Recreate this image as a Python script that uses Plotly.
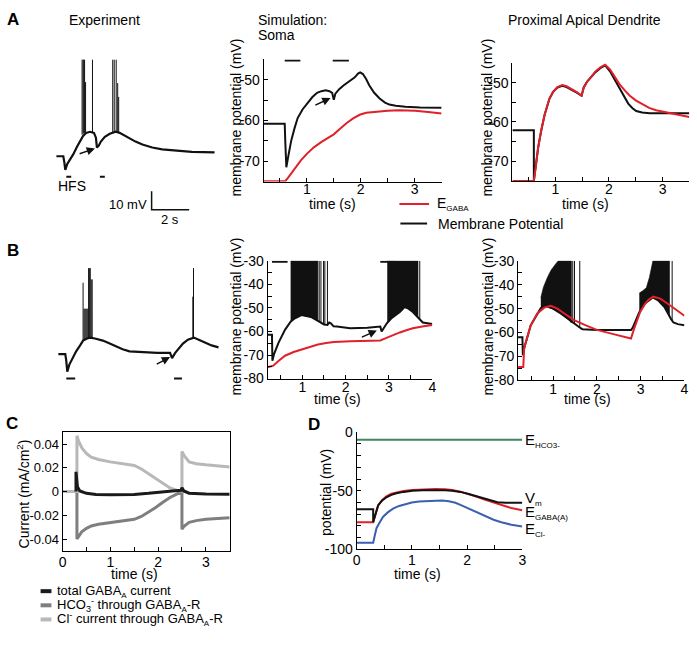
import plotly.graph_objects as go

W, H = 697, 645
FONT = "Liberation Sans, Arial, Helvetica, sans-serif"
RED = "#e0202a"
BLK = "#111111"

# ---------------- DATA ----------------
# Experiment A (s, mV)
expA_t = [0, 0.368, 0.421, 0.474, 0.579, 0.737, 0.895, 1.105, 1.263, 1.421, 1.579, 1.789, 2.0, 2.105,
          2.158, 2.263, 2.368, 2.579, 2.842, 3.0, 3.158, 3.368, 3.632, 3.895, 4.211, 4.579, 5.105,
          5.632, 6.421, 7.211, 8.421]
expA_v = [-60, -60, -63.2, -67.4, -64.2, -61.6, -59.0, -54.7, -51.6, -49.0, -47.4, -46.8, -47.4, -50.0,
          -55.3, -54.2, -52.1, -49.5, -47.9, -47.4, -46.8, -47.4, -49.0, -50.5, -52.1, -53.7, -55.3,
          -56.3, -57.1, -57.6, -57.9]
expA_spike_t = [1.368, 1.421, 1.458, 1.5, 1.553, 1.921, 3.0, 3.079, 3.184, 3.263, 3.316]
expA_spike_base = [-48.4, -47.9, -47.6, -47.4, -47.3, -47.0, -47.4, -47.2, -46.9, -47.0, -47.2]
expA_spike_peak = [-7.9, -7.9, -7.9, -7.9, -20.0, -7.9, -7.9, -7.9, -7.9, -20.5, -28.0]
expA_hfs_start = [0.526, 2.316]
expA_hfs_end = [0.789, 2.579]
expA_hfs_level = [-71.05, -71.05]
scale_t = [5.07, 5.07, 7.07]
scale_v = [-78.9, -88.9, -88.9]

# Experiment B
expB_t = [0, 0.368, 0.421, 0.474, 0.579, 0.789, 0.947, 1.158, 1.316, 1.526, 1.684, 1.947, 2.368, 2.737,
          3.053, 3.421, 3.789, 4.474, 5.263, 5.947, 6.053, 6.211, 6.421, 6.632, 6.895, 7.211, 7.474,
          7.789, 8.158, 8.526]
expB_v = [-61.0, -61.0, -64.7, -70.5, -66.8, -62.6, -59.5, -56.3, -53.7, -52.6, -52.1, -52.6, -53.7,
          -55.3, -56.8, -58.4, -59.5, -60.0, -60.3, -60.3, -63.2, -60.5, -57.9, -55.3, -53.2, -52.1,
          -53.2, -54.7, -56.3, -57.4]
expB_spike_t = [1.316, 1.37, 1.42, 1.47, 1.52, 1.57, 1.61, 1.65, 1.70, 1.75, 1.80, 7.16, 7.195]
expB_spike_base = [-53.7, -53.4, -53.1, -52.9, -52.7, -52.5, -52.3, -52.2, -52.1, -52.1, -52.2, -52.2, -52.1]
expB_spike_peak = [-22.5, -36.5, -36.5, -36.5, -36.5, -36.5, -14.6, -14.6, -14.6, -20.7, -20.7, -30.0, -14.6]
expB_hfs_start = [0.421, 6.158]
expB_hfs_end = [0.895, 6.579]
expB_hfs_level = [-74.2, -74.2]

# Simulation A, soma
aS_t = [0.2, 0.59, 0.6, 0.62, 0.66, 0.71, 0.77, 0.83, 0.92, 1.01, 1.1, 1.19, 1.27, 1.35, 1.42, 1.47, 1.5,
        1.53, 1.6, 1.68, 1.78, 1.89, 1.95, 1.99, 2.04, 2.1, 2.16, 2.25, 2.35, 2.45, 2.53, 2.65, 2.83, 3.1, 3.5]
aS_vm = [-60.8, -60.8, -65.0, -71.5, -68.5, -65.0, -62.0, -59.4, -57.3, -55.8, -54.3, -53.2, -52.8, -52.6,
         -52.8, -53.2, -54.9, -53.4, -52.3, -51.4, -50.5, -49.4, -48.5, -48.2, -48.6, -49.8, -51.4, -53.2,
         -54.6, -55.6, -56.1, -56.4, -56.6, -56.8, -56.9]
aS_te = [0.2, 0.6, 0.65, 0.75, 0.89, 1.0, 1.13, 1.28, 1.44, 1.5, 1.6, 1.74, 1.86, 1.98, 2.1, 2.28, 2.5,
         2.71, 3.01, 3.25, 3.5]
aS_egaba = [-74.9, -74.9, -74.1, -72.3, -69.8, -68.2, -66.6, -65.2, -64.0, -63.4, -62.2, -60.6, -59.5,
            -58.6, -58.1, -57.8, -57.6, -57.5, -57.6, -57.9, -58.3]
aS_hfs_start = [0.59, 1.48]
aS_hfs_end = [0.88, 1.78]
aS_hfs_level = [-45.25, -45.25]

# Simulation A, proximal apical dendrite
aD_t = [0.2, 0.6, 0.6, 0.64, 0.68, 0.74, 0.8, 0.89, 0.96, 1.04, 1.13, 1.21, 1.29, 1.4, 1.49, 1.53, 1.59,
        1.65, 1.75, 1.84, 1.93, 2.02, 2.1, 2.2, 2.28, 2.36, 2.44, 2.51, 2.62, 2.76, 3.5]
aD_vm = [-62.1, -62.1, -75.0, -71.0, -66.5, -62.0, -58.2, -54.1, -52.3, -51.2, -50.8, -51.1, -51.6, -52.5,
         -53.3, -51.2, -49.8, -48.8, -47.3, -46.3, -45.6, -47.1, -49.0, -51.6, -53.6, -55.3, -56.5, -57.2,
         -57.6, -57.8, -57.8]
aD_te = [0.2, 0.6, 0.64, 0.68, 0.74, 0.8, 0.89, 0.96, 1.04, 1.13, 1.21, 1.29, 1.4, 1.49, 1.53, 1.59, 1.65,
         1.75, 1.84, 1.93, 2.02, 2.1, 2.2, 2.3, 2.39, 2.5, 2.63, 2.75, 2.88, 3.12, 3.3, 3.5]
aD_egaba = [-75.0, -75.0, -71.0, -66.5, -62.0, -58.2, -54.1, -52.3, -51.1, -50.6, -50.9, -51.5, -52.4,
            -53.3, -51.3, -49.8, -48.7, -47.1, -46.1, -45.4, -46.6, -48.2, -50.4, -52.0, -53.3, -54.5,
            -55.6, -56.4, -57.0, -57.6, -58.1, -58.7]

# Simulation B, soma
bS_t = [0.2, 0.3, 0.31, 0.35, 0.45, 0.6, 0.73, 0.83, 0.98, 1.2, 1.39, 1.5, 1.58, 1.62, 1.66, 1.72, 1.8,
        2.1, 2.5, 2.8, 2.83, 2.9, 2.95, 3.05, 3.25, 3.36, 3.45, 3.55, 3.7, 3.78, 3.85, 4.0]
bS_vm = [-61.4, -61.4, -72.4, -69.5, -64.8, -59.3, -55.8, -54.4, -53.0, -53.8, -55.8, -57.0, -57.2, -56.2,
         -56.5, -57.8, -57.9, -58.6, -58.4, -57.9, -60.0, -58.0, -56.5, -54.5, -51.7, -49.6, -50.3, -51.7,
         -54.4, -56.2, -56.4, -56.8]
bS_te = [0.2, 0.33, 0.45, 0.6, 0.8, 0.98, 1.17, 1.36, 1.55, 1.73, 2.11, 2.5, 2.8, 2.9, 3.02, 3.25, 3.4,
         3.55, 3.8, 4.0]
bS_egaba = [-75.2, -74.5, -72.5, -70.3, -68.7, -67.6, -66.4, -65.5, -64.9, -64.5, -64.1, -63.9, -63.8,
            -63.0, -62.0, -60.4, -59.5, -58.6, -57.8, -57.2]
bS_band1_t = [0.73, 0.83, 0.98, 1.2, 1.36]
bS_band1_base = [-55.8, -54.4, -53.0, -53.8, -55.5]
bS_band1_top = [-30, -30, -30, -30, -30]
bS_band2_t = [2.96, 3.05, 3.25, 3.36, 3.45, 3.55, 3.67]
bS_band2_base = [-56.5, -54.5, -51.7, -49.6, -50.3, -51.7, -53.8]
bS_band2_top = [-30, -30, -30, -30, -30, -30, -30]
bS_spike_t = [1.39, 1.43, 1.49, 1.52, 1.58, 3.71]
bS_spike_base = [-55.8, -56.3, -56.8, -57.0, -57.2, -54.6]
bS_spike_peak = [-30, -30, -30, -30, -30, -30]
bS_hfs_start = [0.3, 2.8]
bS_hfs_end = [0.66, 3.17]
bS_hfs_level = [-30.35, -30.35]

# Simulation B, dendrite
bD_t = [0.2, 0.3, 0.31, 0.34, 0.49, 0.64, 0.72, 0.85, 1.0, 1.2, 1.42, 1.5, 1.6, 1.67, 2.0, 2.78, 2.82,
        2.9, 2.97, 3.1, 3.2, 3.28, 3.4, 3.55, 3.7, 3.75, 3.85, 4.0]
bD_vm = [-62.0, -62.0, -69.5, -66.6, -57.0, -52.0, -49.8, -49.0, -50.0, -52.3, -55.5, -56.5, -57.8, -58.6,
         -59.0, -59.0, -58.0, -54.5, -51.5, -47.8, -46.2, -45.3, -46.5, -49.5, -54.5, -55.8, -56.5, -57.0]
bD_te = [0.2, 0.32, 0.34, 0.4, 0.49, 0.64, 0.8, 0.95, 1.1, 1.2, 1.48, 1.75, 2.0, 2.4, 2.78, 2.85, 2.99,
         3.1, 3.18, 3.29, 3.45, 3.67, 3.85, 4.0]
bD_egaba = [-74.5, -74.5, -66.6, -62.5, -57.0, -52.0, -49.6, -48.8, -50.0, -51.3, -54.8, -57.0, -58.9,
            -60.8, -62.5, -58.5, -51.4, -48.0, -46.3, -45.0, -45.8, -48.6, -50.8, -53.0]
bD_band1_t = [0.72, 0.78, 0.87, 0.95, 1.05, 1.12, 1.2, 1.35, 1.42]
bD_band1_base = [-49.8, -49.2, -49.3, -49.8, -50.5, -51.2, -52.3, -54.5, -56.0]
bD_band1_top = [-45.5, -41.0, -37.0, -34.0, -31.5, -30.0, -30.0, -30.0, -30.0]
bD_band2_t = [2.97, 3.05, 3.13, 3.2, 3.28, 3.4, 3.55, 3.66]
bD_band2_base = [-51.5, -49.5, -47.5, -46.3, -45.5, -46.5, -49.5, -53.0]
bD_band2_top = [-43.5, -42.5, -41.3, -37.0, -30.0, -30.0, -30.0, -30.0]
bD_spike_t = [1.45, 1.49, 1.61, 3.72]
bD_spike_base = [-56.0, -56.5, -58.0, -55.0]
bD_spike_peak = [-30, -30, -30, -30]

# Panel C currents (mA/cm2)
c_cl_t = [0, 0.3, 0.3, 0.33, 0.4, 0.5, 0.6, 0.75, 1.0, 1.25, 1.5, 1.65, 1.8, 1.95, 2.1, 2.25, 2.4, 2.5,
          2.5, 2.55, 2.65, 2.8, 3.0, 3.25, 3.5]
c_cl = [0, 0, 0.047, 0.043, 0.037, 0.032, 0.029, 0.027, 0.025, 0.0235, 0.022, 0.019, 0.015, 0.0105,
        0.0065, 0.003, 0.001, 0.0003, 0.0337, 0.030, 0.025, 0.0235, 0.0225, 0.0215, 0.0207]
c_hco3_t = [0, 0.3, 0.3, 0.33, 0.4, 0.5, 0.6, 0.75, 1.0, 1.25, 1.5, 1.65, 1.8, 1.95, 2.1, 2.25, 2.4, 2.5,
            2.5, 2.55, 2.65, 2.8, 3.0, 3.25, 3.5]
c_hco3 = [0, 0, -0.040, -0.038, -0.034, -0.031, -0.029, -0.0275, -0.0262, -0.025, -0.0234, -0.021,
          -0.0175, -0.0135, -0.009, -0.005, -0.002, -0.0005, -0.0317, -0.029, -0.026, -0.0245, -0.0234,
          -0.0228, -0.022]
c_tot_t = [0.28, 0.28, 0.31, 0.36, 0.5, 0.7, 1.0, 1.5, 1.8, 2.0, 2.3, 2.48, 2.5, 2.54, 2.65, 3.0, 3.5]
c_tot = [0, 0.0166, 0.004, 0.0005, -0.0015, -0.0025, -0.0028, -0.0024, -0.0015, -0.0005, 0.0005, 0.001,
         0.0033, 0.0005, -0.0014, -0.002, -0.0022]

# Panel D potentials (mV)
d_t_hco3 = [0, 3]
d_ehco3 = [-6.4, -6.4]
d_t_vm = [0, 0.3, 0.3, 0.33, 0.39, 0.46, 0.54, 0.63, 0.72, 0.85, 1.01, 1.2, 1.43, 1.6, 1.73, 1.88, 2.03,
          2.18, 2.33, 2.45, 2.55, 2.7, 3.0]
d_vm = [-65.8, -65.8, -77.0, -72.0, -62.5, -58.5, -55.6, -53.5, -52.2, -51.0, -50.0, -49.6, -49.4,
        -49.6, -50.0, -51.0, -52.8, -54.8, -56.9, -58.8, -59.9, -60.3, -60.3]
d_t_eg = [0, 0.3, 0.33, 0.39, 0.46, 0.54, 0.63, 0.72, 0.85, 1.01, 1.2, 1.43, 1.6, 1.73, 1.88, 2.03, 2.18,
          2.33, 2.5, 2.62, 2.8, 3.0]
d_egaba = [-76.9, -76.9, -72.0, -62.5, -58.0, -54.7, -52.6, -51.4, -50.2, -49.4, -48.8, -48.6, -48.8,
           -49.4, -50.8, -52.8, -55.2, -57.8, -60.5, -62.5, -64.8, -66.7]
d_t_cl = [0, 0.3, 0.33, 0.36, 0.42, 0.48, 0.57, 0.66, 0.77, 0.89, 1.0, 1.13, 1.35, 1.55, 1.67, 1.79, 1.9,
          2.03, 2.18, 2.33, 2.48, 2.62, 2.8, 3.0]
d_ecl = [-94.4, -94.4, -88.0, -82.0, -77.0, -72.2, -68.3, -65.3, -63.0, -61.1, -60.0, -59.2, -58.5,
         -58.3, -59.0, -60.3, -62.5, -65.3, -68.7, -72.2, -74.8, -76.9, -79.0, -80.6]

# Tick labels
simA_yticks = [-70, -60, -50]
simA_yticklabels = ["-70", "-60", "-50"]
simA_xticks = [1, 2, 3]
simB_yticks = [-80, -70, -60, -50, -40, -30]
simB_yticklabels = ["-80", "-70", "-60", "-50", "-40", "-30"]
simB_xticks = [1, 2, 3, 4]
c_yticks = [-0.04, -0.02, 0, 0.02, 0.04]
c_yticklabels = ["-0.04", "-0.02", "0", "0.02", "0.04"]
c_xticks = [0, 1, 2, 3]
d_yticks = [-100, -50, 0]
d_yticklabels = ["-100", "-50", "0"]
d_xticks = [0, 1, 2, 3]


# ---------------- helpers ----------------
def xd(a, b):
    return [a / W, b / W]


def yd(top, bottom):
    return [1 - bottom / H, 1 - top / H]


def px(x):
    return x / W


def py(y):
    return 1 - y / H


def segs(t0, t1, lev):
    xs, ys = [], []
    for a, b, c in zip(t0, t1, lev):
        xs += [a, b, None]
        ys += [c, c, None]
    return xs, ys


def spikes(ts, base, peak):
    xs, ys = [], []
    for t, b, p in zip(ts, base, peak):
        xs += [t, t, None]
        ys += [b, p, None]
    return xs, ys


def band(ts, base, top):
    return list(ts) + list(ts)[::-1], list(base) + list(top)[::-1]


fig = go.Figure()


def line(x, y, ax, color=BLK, width=2):
    fig.add_trace(go.Scatter(x=x, y=y, mode="lines", xaxis="x" + ax, yaxis="y" + ax,
                             line=dict(color=color, width=width), hoverinfo="skip"))


def fill(x, y, ax):
    fig.add_trace(go.Scatter(x=x, y=y, mode="lines", fill="toself", fillcolor=BLK,
                             xaxis="x" + ax, yaxis="y" + ax,
                             line=dict(color=BLK, width=0.6), hoverinfo="skip"))


# ---- experiment A (axes 1)
line(expA_t, expA_v, "1", BLK, 2.2)
sx, sy = spikes(expA_spike_t, expA_spike_base, expA_spike_peak)
line(sx, sy, "1", BLK, 1)
hx, hy = segs(expA_hfs_start, expA_hfs_end, expA_hfs_level)
line(hx, hy, "1", BLK, 2)
line(scale_t, scale_v, "1", BLK, 1.5)

# ---- sim A soma (axes 2)
line(aS_te, aS_egaba, "2", RED, 2)
line(aS_t, aS_vm, "2", BLK, 2)
hx, hy = segs(aS_hfs_start, aS_hfs_end, aS_hfs_level)
line(hx, hy, "2", BLK, 2)

# ---- sim A dendrite (axes 3)
line(aD_t, aD_vm, "3", BLK, 2)
line(aD_te, aD_egaba, "3", RED, 2)

# ---- experiment B (axes 4)
line(expB_t, expB_v, "4", BLK, 2.2)
sx, sy = spikes(expB_spike_t, expB_spike_base, expB_spike_peak)
line(sx, sy, "4", BLK, 1)
hx, hy = segs(expB_hfs_start, expB_hfs_end, expB_hfs_level)
line(hx, hy, "4", BLK, 2)

# ---- sim B soma (axes 5)
line(bS_t, bS_vm, "5", BLK, 2)
fill(*band(bS_band1_t, bS_band1_base, bS_band1_top), "5")
fill(*band(bS_band2_t, bS_band2_base, bS_band2_top), "5")
sx, sy = spikes(bS_spike_t, bS_spike_base, bS_spike_peak)
line(sx, sy, "5", BLK, 1)
line(bS_te, bS_egaba, "5", RED, 2)
hx, hy = segs(bS_hfs_start, bS_hfs_end, bS_hfs_level)
line(hx, hy, "5", BLK, 2)

# ---- sim B dendrite (axes 6)
line(bD_t, bD_vm, "6", BLK, 2)
fill(*band(bD_band1_t, bD_band1_base, bD_band1_top), "6")
fill(*band(bD_band2_t, bD_band2_base, bD_band2_top), "6")
sx, sy = spikes(bD_spike_t, bD_spike_base, bD_spike_peak)
line(sx, sy, "6", BLK, 1)
line(bD_te, bD_egaba, "6", RED, 2)

# ---- C (axes 7)
GRAY_M = "#7f7f7f"
GRAY_L = "#b8b8b8"
line(c_hco3_t, c_hco3, "7", GRAY_M, 3)
line(c_cl_t, c_cl, "7", GRAY_L, 3)
line(c_tot_t, c_tot, "7", "#1a1a1a", 3)

# ---- D (axes 8)
GREEN = "#3f8563"
BLUE = "#3d5faf"
line(d_t_hco3, d_ehco3, "8", GREEN, 2)
line(d_t_cl, d_ecl, "8", BLUE, 2)
line(d_t_eg, d_egaba, "8", RED, 2)
line(d_t_vm, d_vm, "8", BLK, 2)


def axis(dom, rng, anchor, tickvals=None, ticktext=None, minor=None, mirror=False, tfsize=14, standoff=0):
    d = dict(domain=dom, range=rng, anchor=anchor, showgrid=False, zeroline=False, showline=True,
             linecolor="black", linewidth=1, ticks="inside", ticklen=4, tickcolor="black", tickwidth=1,
             tickfont=dict(family=FONT, size=tfsize, color="black"), mirror=mirror, fixedrange=True,
             ticklabelstandoff=standoff)
    if tickvals is not None:
        d["tickmode"] = "array"
        d["tickvals"] = tickvals
        d["ticktext"] = ticktext if ticktext is not None else [str(v) for v in tickvals]
    if minor is not None:
        d["minor"] = dict(tickmode="array", tickvals=minor, ticks="inside", ticklen=4,
                          tickcolor="black", tickwidth=1)
    return d


def hidden(dom, rng, anchor):
    return dict(domain=dom, range=rng, anchor=anchor, visible=False, fixedrange=True)


layout = dict(
    width=W, height=H, margin=dict(l=0, r=0, t=0, b=0), showlegend=False,
    paper_bgcolor="white", plot_bgcolor="rgba(0,0,0,0)", font=dict(family=FONT, color="black"),
    xaxis=hidden(xd(45, 225), [(45 - 53) / 19, (225 - 53) / 19], "y"),
    yaxis=hidden(yd(50, 215), [-60 + (152 - 215) / 1.9, -60 + (152 - 50) / 1.9], "x"),
    xaxis2=axis(xd(262.7, 442.7), [0.2, 3.5], "y2", simA_xticks, None, [0.5, 1.5, 2.5, 3.5], standoff=-5),
    yaxis2=axis(yd(52.7, 178), [-75, -45], "x2", simA_yticks, simA_yticklabels, [-75, -65, -55, -45]),
    xaxis3=axis(xd(514.3, 693.3), [0.2, 3.5], "y3", simA_xticks, None, [0.5, 1.5, 2.5, 3.5], standoff=-5),
    yaxis3=axis(yd(56.5, 177.3), [-75, -45], "x3", simA_yticks, simA_yticklabels, [-75, -65, -55, -45]),
    xaxis4=hidden(xd(45, 225), [(45 - 55) / 19, (225 - 55) / 19], "y4"),
    yaxis4=hidden(yd(255, 390), [-60 + (353 - 390) / 1.9, -60 + (353 - 255) / 1.9], "x4"),
    xaxis5=axis(xd(266.7, 433.3), [0.2, 4], "y5", simB_xticks, None, [0.5, 1.5, 2.5, 3.5], standoff=-4),
    yaxis5=axis(yd(259.3, 380), [-80, -30], "x5", simB_yticks, simB_yticklabels,
                [-75, -65, -55, -45, -35]),
    xaxis6=axis(xd(520, 688.3), [0.2, 4], "y6", simB_xticks, None, [0.5, 1.5, 2.5, 3.5], standoff=-4),
    yaxis6=axis(yd(259.3, 381.7), [-80, -30], "x6", simB_yticks, simB_yticklabels,
                [-75, -65, -55, -45, -35]),
    xaxis7=axis(xd(59.3, 228.3), [0, 3.5], "y7", c_xticks, None, [0.5, 1.5, 2.5], mirror=True, tfsize=14,
                standoff=-2),
    yaxis7=axis(yd(435, 556.7), [-0.05, 0.05], "x7", c_yticks, c_yticklabels, None, mirror=True, tfsize=13),
    xaxis8=axis(xd(356.7, 524.3), [0, 3], "y8", d_xticks, None, [0.5, 1.5, 2.5], tfsize=14, standoff=-2),
    yaxis8=axis(yd(435, 555), [-100, 0], "x8", d_yticks, d_yticklabels,
                [-90, -80, -70, -60, -40, -30, -20, -10], tfsize=14),
)
fig.update_layout(**layout)

anns = []


def T(x, y, text, size=14, xanchor="center", angle=0, bold=False):
    if bold:
        text = "<b>" + text + "</b>"
    anns.append(dict(x=px(x), y=py(y), xref="paper", yref="paper", text=text, showarrow=False,
                     xanchor=xanchor, yanchor="middle", textangle=angle,
                     font=dict(family=FONT, size=size, color="black")))


# panel letters
T(9, 12, "A", 17, bold=True)
T(9, 249, "B", 17, bold=True)
T(8, 426, "C", 17, bold=True)
T(314, 427, "D", 17, bold=True)
# titles
T(102, 12, "Experiment", 14)
T(255, 12, "Simulation:", 14, "left")
T(255, 28, "Soma", 14, "left")
T(587, 12, "Proximal Apical Dendrite", 14)
# axis titles
for (x, y) in [(235, 112), (489, 112), (235, 316), (490, 316)]:
    T(x, y, "membrane potential (mV)", 14, angle=-90)
for (x, y) in [(332, 201), (588, 201), (337, 401), (590, 401), (132, 580), (418, 580)]:
    T(x, y, "time (s)", 14)
T(19, 498, "Current (mA/cm<sup>2</sup>)", 14, angle=-90)
T(325, 497, "potential (mV)", 14, angle=-90)
# scale bar labels
T(147, 202, "10 mV", 13, "right")
T(168, 217, "2 s", 13)
# legend A
SUB = "<sub><span style='font-size:8px'>%s</span></sub>"
T(436, 201, "E" + SUB % "GABA", 14, "left")
T(437, 221, "Membrane Potential", 14, "left")
# legend C
T(52, 598, "total GABA" + SUB % "A" + " current", 13, "left")
T(52, 612.5, "HCO<sub>3</sub><sup>-</sup> through GABA" + SUB % "A" + "-R", 13, "left")
T(52, 627, "Cl<sup>-</sup> current through GABA" + SUB % "A" + "-R", 13, "left")
# D labels
T(525, 443, "E" + SUB % "HCO3-", 15, "left")
T(525, 503, "V" + SUB % "m", 15, "left")
T(525, 517, "E" + SUB % "GABA(A)", 15, "left")
T(525, 535, "E" + SUB % "Cl-", 15, "left")

# HFS labels in data coords
anns.append(dict(x=0.816, y=-76.3, xref="x", yref="y", text="HFS", showarrow=False,
                 font=dict(family=FONT, size=14, color="black")))
anns.append(dict(x=0.73, y=-43.2, xref="x2", yref="y2", text="HFS", showarrow=False,
                 font=dict(family=FONT, size=14, color="black")))

# arrows (head, tail)
for (xr, yr, hx_, hy_, tx, ty) in [("x", "y", 2.053, -55.79, 1.158, -58.95),
                                   ("x4", "y4", 5.947, -62.63, 5.158, -66.84),
                                   ("x2", "y2", 1.44, -54.5, 1.13, -56.4),
                                   ("x5", "y5", 2.72, -59.6, 2.34, -62.7)]:
    anns.append(dict(x=hx_, y=hy_, xref=xr, yref=yr, ax=tx, ay=ty, axref=xr, ayref=yr, text="",
                     showarrow=True, arrowhead=2, arrowsize=1.1, arrowwidth=1.5, arrowcolor=BLK))

fig.update_layout(annotations=anns)

# legend keys (shapes in paper coords)
shapes = [
    dict(type="line", xref="paper", yref="paper", x0=px(400), x1=px(430), y0=py(201), y1=py(201),
         line=dict(color=RED, width=2)),
    dict(type="line", xref="paper", yref="paper", x0=px(401), x1=px(428), y0=py(221), y1=py(221),
         line=dict(color=BLK, width=2)),
    dict(type="line", xref="paper", yref="paper", x0=px(37), x1=px(48), y0=py(598), y1=py(598),
         line=dict(color="#1a1a1a", width=4)),
    dict(type="line", xref="paper", yref="paper", x0=px(37), x1=px(48), y0=py(612.5), y1=py(612.5),
         line=dict(color=GRAY_M, width=4)),
    dict(type="line", xref="paper", yref="paper", x0=px(37), x1=px(48), y0=py(627), y1=py(627),
         line=dict(color=GRAY_L, width=4)),
]
fig.update_layout(shapes=shapes)

fig.write_html("out.html", config={"displayModeBar": False, "staticPlot": True},
               post_script="document.body.style.margin='0px';document.body.style.overflow='hidden';")
